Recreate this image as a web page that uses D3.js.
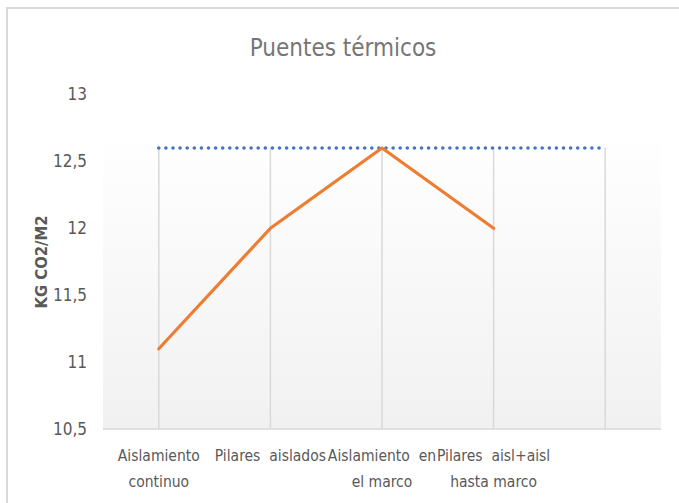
<!DOCTYPE html>
<html><head><meta charset="utf-8">
<script src="https://cdn.jsdelivr.net/npm/d3@7"></script>
<style>
html,body{margin:0;padding:0;background:#fff;}
svg{display:block;}
text{font-family:"DejaVu Sans Condensed","Liberation Sans",sans-serif;fill:#595959;}
</style></head>
<body><svg id="c" width="679" height="503"></svg>
<script>
const categories = ["Aislamiento continuo","Pilares aislados","Aislamiento en el marco","Pilares aisl+aisl hasta marco",""];
const categoryLines = [["Aislamiento","continuo"],["Pilares  aislados"],["Aislamiento  en","el marco"],["Pilares  aisl+aisl","hasta marco"],[""]];
const seriesValues = [11.1, 12.0, 12.6, 12.0, null];
const referenceValues = [12.6, 12.6, 12.6, 12.6, 12.6];
const yTicks = [10.5, 11, 11.5, 12, 12.5, 13];
const title = "Puentes térmicos";
const yTitle = "KG CO2/M2";

const svg = d3.select("#c");
const plot = {left:103, right:661, top:132, bottom:429};

// chart border (top & left visible)
svg.append("path").attr("d","M7,503 V8 H679").attr("fill","none").attr("stroke","#d9d9d9").attr("stroke-width",2);

const x = d3.scaleBand().domain(categories.map((d,i)=>i)).range([plot.left, plot.right]);
const y = d3.scaleLinear().domain([10.5, 13]).range([plot.bottom, 94.5]);
const cx = i => x(i) + x.bandwidth()/2;

// gradient plot area
const defs = svg.append("defs");
const g = defs.append("linearGradient").attr("id","bg").attr("x1",0).attr("y1",0).attr("x2",0).attr("y2",1);
g.append("stop").attr("offset","0%").attr("stop-color","#ffffff");
g.append("stop").attr("offset","100%").attr("stop-color","#f1f1f1");
svg.append("rect").attr("x",plot.left).attr("y",plot.top).attr("width",plot.right-plot.left).attr("height",plot.bottom-plot.top).attr("fill","url(#bg)");

// vertical gridlines
svg.append("g").selectAll("line").data(categories).join("line")
  .attr("x1",(d,i)=>cx(i)).attr("x2",(d,i)=>cx(i))
  .attr("y1",y(12.6)).attr("y2",y(10.5))
  .attr("stroke","#d9d9d9").attr("stroke-width",1.5);

// x axis line
svg.append("line").attr("x1",plot.left).attr("x2",plot.right).attr("y1",y(10.5)).attr("y2",y(10.5))
  .attr("stroke","#d9d9d9").attr("stroke-width",1.5);

// y axis tick labels
const yAxis = d3.axisLeft(y).tickValues(yTicks).tickSize(0).tickPadding(0)
  .tickFormat(d => String(d).replace(".", ","));
const ya = svg.append("g").attr("transform","translate(87,0)").call(yAxis);
ya.select(".domain").remove();
ya.selectAll("text").attr("font-size",17).attr("fill","#595959")
  .style("font-family",'"DejaVu Sans Condensed","Liberation Sans",sans-serif');

// dotted reference line
svg.append("path").datum(referenceValues)
  .attr("d", d3.line().x((d,i)=>cx(i)).y(d=>y(d)))
  .attr("fill","none").attr("stroke","#4472C4").attr("stroke-width",3.6)
  .attr("stroke-linecap","round").attr("stroke-dasharray","0 7.1");

// series line
svg.append("path").datum(seriesValues)
  .attr("d", d3.line().defined(d=>d!=null).x((d,i)=>cx(i)).y(d=>y(d)))
  .attr("fill","none").attr("stroke","#ED7D31").attr("stroke-width",3.2)
  .attr("stroke-linejoin","round").attr("stroke-linecap","round");

// category labels
const cl = svg.append("g");
categoryLines.forEach((lines,i)=>{
  lines.forEach((t,j)=>{
    cl.append("text").attr("x",cx(i)).attr("y",461 + j*26).attr("text-anchor","middle")
      .attr("font-size",15.5).style("white-space","pre").text(t);
  });
});

// title
svg.append("text").attr("x",343).attr("y",56).attr("text-anchor","middle")
  .attr("font-size",24).style("fill","#767676").text(title);

// y title
svg.append("text").attr("transform","translate(47,262) rotate(-90)").attr("text-anchor","middle")
  .attr("font-size",16.5).attr("font-weight","bold").text(yTitle);
</script></body></html>
